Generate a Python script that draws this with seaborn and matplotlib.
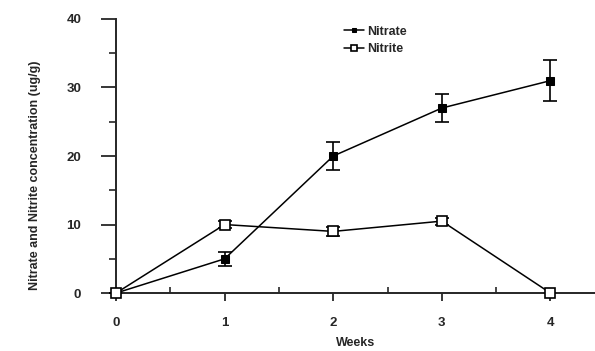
import matplotlib
matplotlib.use("Agg")
import matplotlib.pyplot as plt
import seaborn as sns
import pandas as pd
from matplotlib.ticker import MultipleLocator

weeks = [0, 1, 2, 3, 4]
nitrate = [0, 5, 20, 27, 31]
nitrate_err = [0, 1, 2, 2, 3]
nitrite = [0, 10, 9, 10.5, 0]
nitrite_err = [0, 0.5, 0.6, 0.5, 0]

sns.set_theme(style="ticks")
plt.rcParams['font.family'] = ['Liberation Sans', 'DejaVu Sans']
plt.rcParams['font.weight'] = 'bold'

fig = plt.figure(figsize=(5.95, 3.51), dpi=100)
ax = fig.add_axes([0.195, 0.165, 0.805, 0.781])

df = pd.DataFrame({"Weeks": weeks * 2,
                   "val": nitrate + nitrite,
                   "err": nitrate_err + nitrite_err,
                   "series": ["Nitrate"] * 5 + ["Nitrite"] * 5})

ax.errorbar(weeks, nitrate, yerr=nitrate_err, fmt='none', ecolor='black',
            elinewidth=1.2, capsize=5, capthick=1.2, clip_on=False, zorder=2)
ax.errorbar(weeks, nitrite, yerr=nitrite_err, fmt='none', ecolor='black',
            elinewidth=1.2, capsize=5, capthick=1.2, clip_on=False, zorder=2)

sns.lineplot(data=df[df.series == "Nitrate"], x="Weeks", y="val", ax=ax,
             color='black', linewidth=1.1, marker='s', markersize=6,
             markerfacecolor='black', markeredgecolor='black', clip_on=False,
             label="Nitrate", zorder=3)
sns.lineplot(data=df[df.series == "Nitrite"], x="Weeks", y="val", ax=ax,
             color='black', linewidth=1.1, marker='s', markersize=7,
             markerfacecolor='white', markeredgecolor='black',
             markeredgewidth=1.2, clip_on=False, label="Nitrite", zorder=3)

ax.set_xlim(0, 4.41)
ax.set_ylim(0, 40)
ax.set_xticks(weeks)
ax.set_yticks([0, 10, 20, 30, 40])
ax.xaxis.set_minor_locator(MultipleLocator(0.5))
ax.yaxis.set_minor_locator(MultipleLocator(5))
ax.tick_params(axis='y', which='major', direction='out', length=11, width=1.3,
               labelsize=9.5, pad=14)
ax.tick_params(axis='y', which='minor', direction='out', length=5, width=1.2)
ax.tick_params(axis='x', which='major', direction='out', length=6, width=1.3,
               labelsize=9.5, pad=11)
ax.tick_params(axis='x', which='minor', direction='in', length=4, width=1.2)
for lab in ax.get_xticklabels() + ax.get_yticklabels():
    lab.set_fontweight('bold')

sns.despine(ax=ax)
ax.spines['left'].set_linewidth(1.4)
ax.spines['bottom'].set_linewidth(1.4)

ax.set_xlabel("Weeks", fontsize=9, fontweight='bold', labelpad=6)
ax.set_ylabel("Nitrate and Nitrite concentration (ug/g)", fontsize=9,
              fontweight='bold')
ax.yaxis.set_label_coords(-0.157, 0.43)

leg = ax.legend(loc='upper left', bbox_to_anchor=(0.475, 0.975), frameon=False,
                fontsize=9, handlelength=1.6, handletextpad=0.3,
                labelspacing=0.45, markerscale=0.6, borderaxespad=0,
                borderpad=0)
for t in leg.get_texts():
    t.set_fontweight('bold')

fig.savefig("out.png", dpi=100)
